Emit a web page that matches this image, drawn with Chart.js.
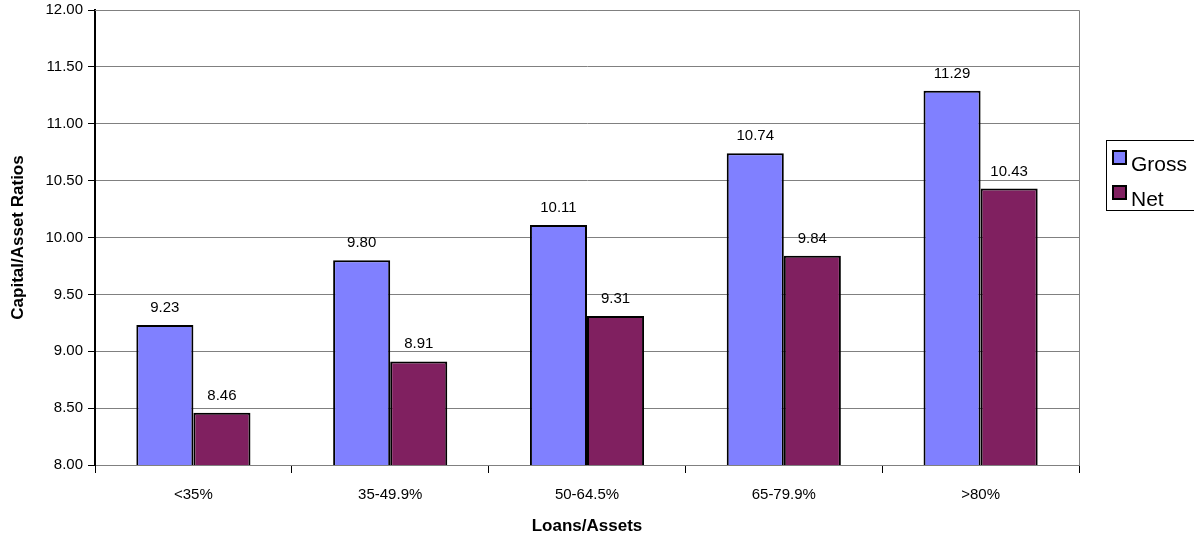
<!DOCTYPE html>
<html>
<head>
<meta charset="utf-8">
<title>Capital/Asset Ratios by Loans/Assets</title>
<script src="https://cdn.jsdelivr.net/npm/chart.js@4.4.1/dist/chart.umd.min.js"></script>
<style>
  html, body { margin: 0; padding: 0; background: #fff; }
  #wrap { width: 1194px; height: 542px; position: relative; }
</style>
</head>
<body>
<div id="wrap"><canvas id="ratios-chart"></canvas></div>
<script>
const categories = ["<35%", "35-49.9%", "50-64.5%", "65-79.9%", ">80%"]
const gross = [9.23, 9.80, 10.11, 10.74, 11.29]
const net = [8.46, 8.91, 9.31, 9.84, 10.43]
const yTicks = [8, 8.5, 9, 9.5, 10, 10.5, 11, 11.5, 12]

const FONT = "Arial, 'Liberation Sans', sans-serif"
const GRID = "#808080"

// value labels above every bar
const valueLabels = {
  id: "valueLabels",
  afterDatasetsDraw(chart) {
    const ctx = chart.ctx
    ctx.save()
    ctx.font = "15px " + FONT
    ctx.fillStyle = "#000"
    ctx.textAlign = "center"
    ctx.textBaseline = "alphabetic"
    chart.data.datasets.forEach((ds, i) => {
      chart.getDatasetMeta(i).data.forEach((bar, j) => {
        ctx.fillText(ds.data[j].toFixed(2), bar.x, bar.y - 13)
      })
    })
    ctx.restore()
  }
}

// grey frame on the top and right of the plot
const plotFrame = {
  id: "plotFrame",
  beforeDatasetsDraw(chart) {
    const {left, right, top, bottom} = chart.chartArea
    const ctx = chart.ctx
    ctx.save()
    ctx.strokeStyle = GRID
    ctx.lineWidth = 1
    ctx.beginPath()
    ctx.moveTo(left, top + 0.5)
    ctx.lineTo(Math.round(right) + 0.5, top + 0.5)
    ctx.lineTo(Math.round(right) + 0.5, bottom)
    ctx.stroke()
    ctx.restore()
  }
}

// boxed legend at the right edge
const boxLegend = {
  id: "boxLegend",
  afterDraw(chart) {
    const ctx = chart.ctx
    ctx.save()
    ctx.strokeStyle = "#000"
    ctx.lineWidth = 1
    ctx.strokeRect(1106.5, 140.5, 92, 70)
    ctx.font = "21px " + FONT
    ctx.textBaseline = "alphabetic"
    ctx.textAlign = "left"
    const rows = [151, 186]
    chart.data.datasets.forEach((ds, i) => {
      const y = rows[i]
      ctx.fillStyle = ds.backgroundColor
      ctx.fillRect(1113, y, 13, 13)
      ctx.lineWidth = 2
      ctx.strokeRect(1113, y, 13, 13)
      ctx.fillStyle = "#000"
      ctx.fillText(ds.label, 1131, y + 20)
    })
    ctx.restore()
  }
}

new Chart(document.getElementById("ratios-chart"), {
  type: "bar",
  data: {
    labels: categories,
    datasets: [{
      label: "Gross",
      data: gross,
      backgroundColor: "#8080FF",
      borderColor: "#000",
      borderWidth: 2,
      borderSkipped: false
    }, {
      label: "Net",
      data: net,
      backgroundColor: "#802060",
      borderColor: "#000",
      borderWidth: 2,
      borderSkipped: false
    }]
  },
  options: {
    responsive: true,
    maintainAspectRatio: false,
    animation: false,
    layout: { padding: { top: 10, right: 115, left: 0, bottom: 0 } },
    plugins: {
      legend: { display: false },
      tooltip: { enabled: false }
    },
    datasets: {
      bar: { categoryPercentage: 0.58, barPercentage: 1.0 }
    },
    scales: {
      x: {
        offset: true,
        grid: {
          offset: true,
          drawOnChartArea: false,
          tickLength: 8,
          tickColor: "#000",
          tickWidth: 1
        },
        border: { color: GRID, width: 1 },
        ticks: {
          color: "#000",
          padding: 13,
          maxRotation: 0,
          font: { family: FONT, size: 15 }
        },
        title: {
          display: true,
          text: "Loans/Assets",
          color: "#000",
          font: { family: FONT, size: 17, weight: "bold" },
          padding: { top: 0, bottom: 5 }
        },
        afterFit(scale) { scale.height = 77 }
      },
      y: {
        min: 8,
        max: 12,
        afterBuildTicks(scale) { scale.ticks = yTicks.map(v => ({ value: v })) },
        grid: {
          color: GRID,
          lineWidth: 1,
          tickLength: 7,
          tickColor: "#000"
        },
        border: { color: "#000", width: 2 },
        ticks: {
          color: "#000",
          padding: 5,
          font: { family: FONT, size: 15 },
          callback: v => v.toFixed(2)
        },
        title: {
          display: true,
          text: "Capital/Asset Ratios",
          color: "#000",
          font: { family: FONT, size: 17, weight: "bold" },
          padding: { top: 8, bottom: 0 }
        },
        afterFit(scale) {
          scale.width = 95
          scale.paddingTop = 0
          scale.paddingBottom = 0
        }
      }
    }
  },
  plugins: [valueLabels, plotFrame, boxLegend]
})
</script>
</body>
</html>
